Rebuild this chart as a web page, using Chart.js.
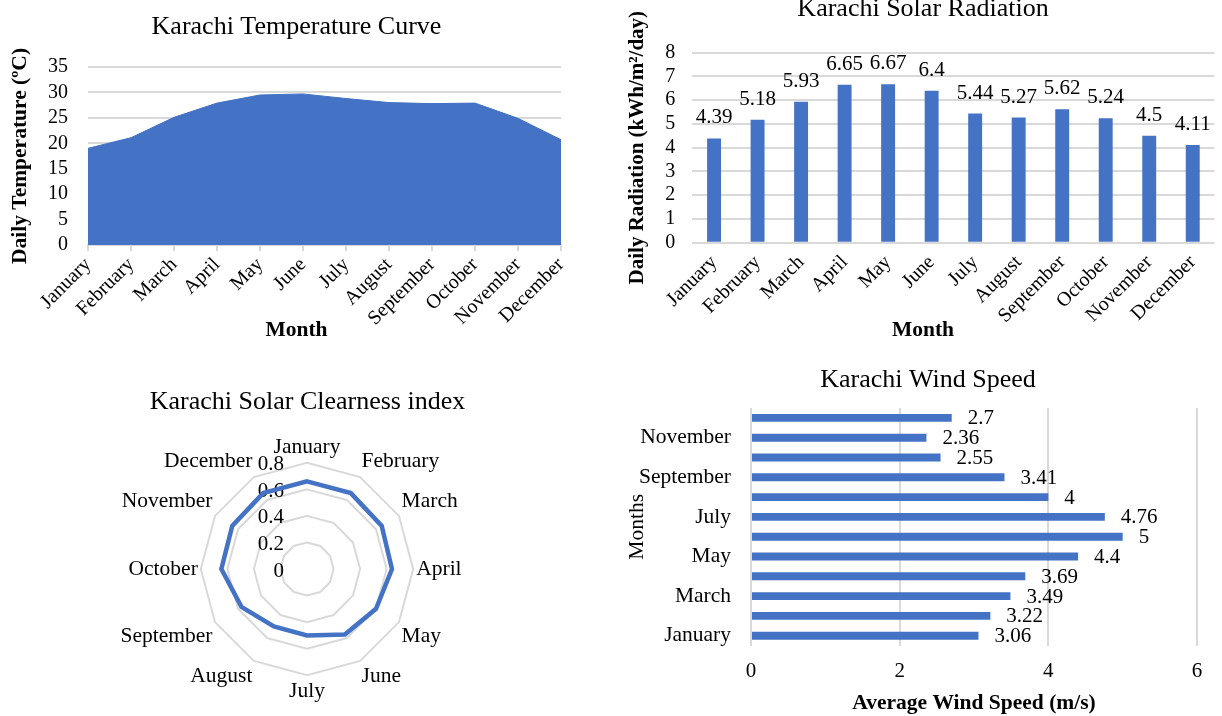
<!DOCTYPE html>
<html>
<head>
<meta charset="utf-8">
<title>Karachi climate</title>
<script src="https://cdn.jsdelivr.net/npm/chart.js@4.4.1/dist/chart.umd.min.js"></script>
<style>
  body { margin: 0; background: #fff; }
  #wrap { position: relative; width: 1222px; height: 716px; overflow: hidden; }
  canvas { position: absolute; }
</style>
</head>
<body>
<div id="wrap">
  <canvas id="tempChart" width="594" height="350" style="left:0;top:0"></canvas>
  <canvas id="radChart" width="598" height="350" style="left:624px;top:0"></canvas>
  <canvas id="clearChart" width="615" height="346" style="left:0;top:370px"></canvas>
  <canvas id="windChart" width="612" height="346" style="left:610px;top:370px"></canvas>
</div>
<script>
const months = ['January', 'February', 'March', 'April', 'May', 'June', 'July',
  'August', 'September', 'October', 'November', 'December'];

// monthly averages for Karachi
const tempValues = [19.0, 21.1, 25.1, 27.9, 29.5, 29.7, 28.8, 28.0, 27.8, 27.9, 24.9, 20.7];
const radiationValues = [4.39, 5.18, 5.93, 6.65, 6.67, 6.4, 5.44, 5.27, 5.62, 5.24, 4.5, 4.11];
const clearnessValues = [0.66, 0.66, 0.65, 0.64, 0.60, 0.57, 0.50, 0.50, 0.57, 0.645, 0.65, 0.66];
const windValues = [3.06, 3.22, 3.49, 3.69, 4.4, 5, 4.76, 4, 3.41, 2.55, 2.36, 2.7];

const BLUE = '#4472C4';
const GRID = '#d9d9d9';
const SERIF = '"Liberation Serif", "Times New Roman", serif';

Chart.defaults.font.family = SERIF;
Chart.defaults.color = '#000';
Chart.defaults.animation = false;
Chart.defaults.responsive = false;
Chart.defaults.plugins.legend.display = false;
Chart.defaults.plugins.tooltip.enabled = false;

// prints the value next to every bar (above for columns, right of it for horizontal bars)
const valueLabels = {
  id: 'valueLabels',
  afterDatasetsDraw(chart, args, opts) {
    const ctx = chart.ctx;
    const values = chart.data.datasets[0].data;
    ctx.save();
    ctx.font = '21px ' + SERIF;
    ctx.fillStyle = '#000';
    chart.getDatasetMeta(0).data.forEach((bar, i) => {
      const txt = String(values[i]);
      if (opts.side === 'right') {
        ctx.textAlign = 'left';
        ctx.textBaseline = 'middle';
        ctx.fillText(txt, bar.x + opts.gap, bar.y + 1);
      } else {
        ctx.textAlign = 'center';
        ctx.textBaseline = 'alphabetic';
        ctx.fillText(txt, bar.x, bar.y - opts.gap);
      }
    });
    ctx.restore();
  }
};

// radar tick values sit left of the vertical axis
const radarTicks = {
  id: 'radarTicks',
  beforeDatasetsDraw(chart) {
    const r = chart.scales.r;
    const ctx = chart.ctx;
    ctx.save();
    ctx.font = '21px ' + SERIF;
    ctx.fillStyle = '#000';
    ctx.textAlign = 'right';
    ctx.textBaseline = 'middle';
    r.ticks.forEach(t => {
      const d = r.getDistanceFromCenterForValue(t.value);
      ctx.fillText(t.label, r.xCenter - 23, r.yCenter - d + 2);
    });
    ctx.restore();
  }
};

// nudges the chart title sideways when the y axis is wide
const titleShift = {
  id: 'titleShift',
  afterLayout(chart, args, opts) {
    const t = chart.titleBlock;
    if (t && opts.dx) {
      t.left += opts.dx;
      t.right += opts.dx;
    }
  }
};

// category axis caption, centred under the chart title rather than the plot
const xCaption = {
  id: 'xCaption',
  afterDraw(chart, args, opts) {
    const t = chart.titleBlock;
    const ctx = chart.ctx;
    ctx.save();
    ctx.font = 'bold 21.5px ' + SERIF;
    ctx.fillStyle = '#000';
    ctx.textAlign = 'center';
    ctx.textBaseline = 'middle';
    ctx.fillText(opts.text, (t.left + t.right) / 2, chart.scales.x.bottom - opts.up);
    ctx.restore();
  }
};

const tickFont = { size: 20 };
const axisTitleFont = { size: 21.5, weight: 'bold' };

// Temperature area
new Chart(document.getElementById('tempChart'), {
  type: 'line',
  data: {
    labels: months,
    datasets: [{
      data: tempValues,
      fill: 'origin',
      backgroundColor: BLUE,
      borderColor: BLUE,
      borderWidth: 1,
      pointRadius: 0,
      tension: 0
    }]
  },
  plugins: [xCaption],
  options: {
    layout: { padding: { left: 32, right: 33, top: 0, bottom: 6 } },
    plugins: {
      title: {
        display: true,
        text: 'Karachi Temperature Curve',
        font: { size: 26, weight: 'normal', lineHeight: 1.2 },
        padding: { top: 11.4, bottom: 24.4 }
      },
      xCaption: { text: 'Month', up: 14 }
    },
    scales: {
      x: {
        offset: false,
        grid: { drawOnChartArea: false, color: GRID, lineWidth: 2, tickLength: 6 },
        border: { color: GRID, width: 2 },
        ticks: { font: tickFont, minRotation: 45, maxRotation: 45, autoSkip: false, padding: 2 },
        afterFit(s) { s.height = 99; }
      },
      y: {
        min: 0,
        max: 35,
        ticks: { stepSize: 5, font: tickFont, padding: 20, autoSkip: false },
        grid: { color: GRID, lineWidth: 2, drawTicks: false },
        border: { display: false },
        title: { display: true, text: 'Daily Temperature (ºC)', font: axisTitleFont, padding: { top: -24.2, bottom: 0 } },
        afterFit(s) { s.width = 56; }
      }
    }
  }
});

// Solar radiation columns
new Chart(document.getElementById('radChart'), {
  type: 'bar',
  data: {
    labels: months,
    datasets: [{
      data: radiationValues,
      backgroundColor: BLUE,
      barPercentage: 0.32,
      categoryPercentage: 1
    }]
  },
  plugins: [valueLabels, xCaption],
  options: {
    layout: { padding: { left: 7.5, right: 7.5, top: 0, bottom: 6 } },
    plugins: {
      title: {
        display: true,
        text: 'Karachi Solar Radiation',
        font: { size: 26, weight: 'normal', lineHeight: 0.7 },
        padding: { top: 0, bottom: 34.5 }
      },
      valueLabels: { side: 'top', gap: 15 },
      xCaption: { text: 'Month', up: 14 }
    },
    scales: {
      x: {
        grid: { display: false, drawTicks: false },
        border: { display: false },
        ticks: { font: tickFont, minRotation: 45, maxRotation: 45, autoSkip: false, padding: 8 },
        afterFit(s) { s.height = 101.3; }
      },
      y: {
        min: 0,
        max: 8,
        ticks: { stepSize: 1, font: tickFont, padding: 17, autoSkip: false },
        grid: { color: GRID, lineWidth: 2, drawTicks: false },
        border: { display: false },
        title: { display: true, text: 'Daily Radiation (kWh/m²/day)', font: { size: 21, weight: 'bold' }, padding: { top: -6.2, bottom: 0 } },
        afterFit(s) { s.width = 60.8; }
      }
    }
  }
});

// Clearness index radar
new Chart(document.getElementById('clearChart'), {
  type: 'radar',
  data: {
    labels: months,
    datasets: [{
      data: clearnessValues,
      borderColor: BLUE,
      borderWidth: 4.5,
      backgroundColor: 'transparent',
      fill: false,
      pointRadius: 0
    }]
  },
  plugins: [radarTicks],
  options: {
    layout: { padding: { left: 0, right: 0, top: 0, bottom: 11 } },
    plugins: {
      title: {
        display: true,
        text: 'Karachi Solar Clearness index',
        font: { size: 26, weight: 'normal', lineHeight: 1.2 },
        padding: { top: 16.4, bottom: 17.4 }
      }
    },
    scales: {
      r: {
        min: 0,
        max: 0.8,
        ticks: { stepSize: 0.2, display: false },
        grid: { color: GRID, lineWidth: 2 },
        angleLines: { display: false },
        pointLabels: { font: { size: 21.5 }, color: '#000', padding: 3 }
      }
    }
  }
});

// Wind speed horizontal bars
new Chart(document.getElementById('windChart'), {
  type: 'bar',
  data: {
    labels: months,
    datasets: [{
      data: windValues,
      backgroundColor: BLUE,
      barPercentage: 0.8,
      categoryPercentage: 0.5
    }]
  },
  plugins: [valueLabels, titleShift],
  options: {
    indexAxis: 'y',
    layout: { padding: { left: 24, right: 25, top: 0, bottom: 0 } },
    plugins: {
      title: {
        display: true,
        text: 'Karachi Wind Speed',
        font: { size: 26, weight: 'normal', lineHeight: 0.8 },
        padding: { top: 0, bottom: 17.2 }
      },
      titleShift: { dx: 12.5 },
      valueLabels: { side: 'right', gap: 16 }
    },
    scales: {
      x: {
        min: 0,
        max: 6,
        ticks: { stepSize: 2, font: { size: 21 }, padding: 13 },
        grid: { color: GRID, lineWidth: 2, drawTicks: false },
        border: { display: false },
        title: { display: true, text: 'Average Wind Speed (m/s)', font: axisTitleFont, padding: { top: 0, bottom: 0.1 } },
        afterFit(s) { s.height = 70.4; }
      },
      y: {
        reverse: true,
        grid: { display: false, drawTicks: false },
        border: { display: false },
        ticks: {
          font: { size: 21.5 },
          padding: 20,
          autoSkip: false,
          callback(v, i) { return i % 2 === 0 ? this.getLabelForValue(v) : ''; }
        },
        title: { display: true, text: 'Months', font: { size: 21.5, weight: 'normal' }, padding: { top: -9.2, bottom: 0 } },
        afterFit(s) { s.width = 117; }
      }
    }
  }
});
</script>
</body>
</html>
